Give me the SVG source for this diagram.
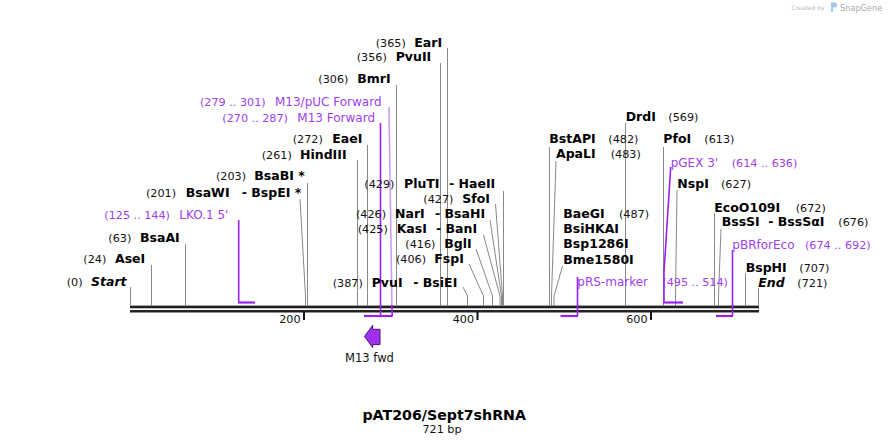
<svg xmlns="http://www.w3.org/2000/svg" width="889" height="445" viewBox="0 0 889 445">
<style>
text{font-family:"DejaVu Sans",Verdana,sans-serif}
.n{font-size:11.2px;fill:#111}
.b{font-size:12.5px;font-weight:bold;fill:#000}
.bi{font-size:12.5px;font-weight:bold;font-style:italic;fill:#000}
.p{font-size:12px;fill:#a040f0}
.pn{font-size:11.2px;fill:#a040f0}
.ln{stroke:#888;stroke-width:1;fill:none}
.pl{stroke:#9b22ee;stroke-width:1.6;fill:none}
.pb{stroke:#9b22ee;stroke-width:2.2;fill:none}
.tk{font-size:11.2px;fill:#111;text-anchor:end}
</style>
<rect width="889" height="445" fill="#fff"/>
<g id="watermark">
<text x="791.5" y="9.5" style="font-size:6px;fill:#bbb">Created by</text>
<path d="M831 2.5h3.5a2.5 2.5 0 0 1 0 5h-1.5v4.5h-2z" fill="#9ccbeb"/>
<text x="840" y="10.5" style="font-size:8.2px;fill:#aaa">SnapGene</text>
</g>
<g id="map">
<rect x="130" y="305.6" width="629" height="2.7" fill="#222"/>
<rect x="130" y="310" width="629" height="2.5" fill="#222"/>
<rect x="303" y="312" width="2" height="8" fill="#111"/>
<rect x="476.5" y="312" width="2" height="8" fill="#111"/>
<rect x="650" y="312" width="2" height="8" fill="#111"/>
<text class="tk" x="300.5" y="323">200</text>
<text class="tk" x="474" y="323">400</text>
<text class="tk" x="647.5" y="323">600</text>
</g>
<g id="connectors">
<polyline class="ln" points="130.5,287 130.5,306"/>
<polyline class="ln" points="151.5,265 151.5,306"/>
<polyline class="ln" points="185.5,244 185.5,306"/>
<polyline class="ln" points="300,199 305.5,296 305.5,306"/>
<polyline class="ln" points="307.5,183 307.5,306"/>
<polyline class="ln" points="357.5,160 357.5,306"/>
<polyline class="ln" points="367.5,145 367.5,306"/>
<polyline class="ln" points="396.5,85 396.5,306"/>
<polyline class="ln" points="440.5,63 440.5,306"/>
<polyline class="ln" points="447.5,48 447.5,306"/>
<polyline class="ln" points="463,287 467.5,296 467.5,306"/>
<polyline class="ln" points="469,264 483.5,296 483.5,306"/>
<polyline class="ln" points="476,249 492.5,296 492.5,306"/>
<polyline class="ln" points="483.5,235 500,296 500,306"/>
<polyline class="ln" points="490,220 501.5,296 501.5,306"/>
<polyline class="ln" points="495.5,204 502.5,296 502.5,306"/>
<polyline class="ln" points="503.5,191 503.5,306"/>
<polyline class="ln" points="549.5,147 549.5,306"/>
<polyline class="ln" points="556,161 551.5,296 551.5,306"/>
<polyline class="ln" points="562.5,266 554,296 554,306"/>
<polyline class="ln" points="625.5,123 625.5,306"/>
<polyline class="ln" points="663.5,147 663.5,306"/>
<polyline class="ln" points="677,190 675.5,296 675.5,306"/>
<polyline class="ln" points="714.5,213 714.5,306"/>
<polyline class="ln" points="721,229 718.5,296 718.5,306"/>
<polyline class="ln" points="745.5,273 745.5,306"/>
<polyline class="ln" points="758.5,288 758.5,306"/>
<polyline class="pl" points="238.7,220 238.7,302.5"/>
<line class="pb" x1="238" y1="302.5" x2="255" y2="302.5"/>
<polyline class="pl" points="380.5,123 380.5,316"/>
<polyline class="pl" points="389,107 391.9,305" style="stroke:#cc9ef6"/>
<polyline class="pl" points="391.9,305 392.2,316"/>
<line class="pb" x1="364" y1="316" x2="392.5" y2="316"/>
<polyline class="pl" points="670.7,167 664,272 664,302.5"/>
<line class="pb" x1="663.5" y1="302.5" x2="683" y2="302.5"/>
<polyline class="pl" points="577.5,277 577.5,316"/>
<line class="pb" x1="560.5" y1="316" x2="578" y2="316"/>
<polyline class="pl" points="732.5,250 732.5,316"/>
<line class="pb" x1="716" y1="316" x2="733" y2="316"/>
</g>
<g id="n-EarI"><text class="n" x="375.7" y="46.5">(365)</text><text class="b" x="414.3" y="46.5">EarI</text></g>
<g id="n-PvuII"><text class="n" x="356.7" y="61">(356)</text><text class="b" x="395.7" y="61">PvuII</text></g>
<g id="n-BmrI"><text class="n" x="318.3" y="83">(306)</text><text class="b" x="357.3" y="83">BmrI</text></g>
<g id="n-M13pUC"><text class="pn" x="200" y="106">(279 .. 301)</text><text class="p" x="275" y="106">M13/pUC Forward</text></g>
<g id="n-M13F"><text class="pn" x="222.3" y="121.5">(270 .. 287)</text><text class="p" x="297.3" y="121.5">M13 Forward</text></g>
<g id="n-EaeI"><text class="n" x="292.7" y="143">(272)</text><text class="b" x="332.3" y="143">EaeI</text></g>
<g id="n-HindIII"><text class="n" x="261.7" y="158.5">(261)</text><text class="b" x="300" y="158.5">HindIII</text></g>
<g id="n-BsaBI"><text class="n" x="216" y="180">(203)</text><text class="b" x="254.3" y="180">BsaBI *</text></g>
<g id="n-BsaWI"><text class="n" x="146" y="196.5">(201)</text><text class="b" x="185.7" y="196.5">BsaWI</text><text class="b" x="241.7" y="196.5">- BspEI *</text></g>
<g id="n-LKO"><text class="pn" x="104.3" y="218.5">(125 .. 144)</text><text class="p" x="179.3" y="218.5">LKO.1 5'</text></g>
<g id="n-BsaAI"><text class="n" x="108.3" y="242">(63)</text><text class="b" x="140" y="242">BsaAI</text></g>
<g id="n-AseI"><text class="n" x="83.3" y="263">(24)</text><text class="b" x="115" y="263">AseI</text></g>
<g id="n-Start"><text class="n" x="66.7" y="286">(0)</text><text class="bi" x="91" y="286">Start</text></g>
<g id="n-PluTI"><text class="n" x="364.3" y="188">(429)</text><text class="b" x="404" y="188">PluTI</text><text class="b" x="449" y="188">- HaeII</text></g>
<g id="n-SfoI"><text class="n" x="423.3" y="203">(427)</text><text class="b" x="462.3" y="203">SfoI</text></g>
<g id="n-NarI"><text class="n" x="356" y="217.5">(426)</text><text class="b" x="395" y="217.5">NarI</text><text class="b" x="435" y="217.5">- BsaHI</text></g>
<g id="n-KasI"><text class="n" x="357.7" y="233">(425)</text><text class="b" x="396.7" y="233">KasI</text><text class="b" x="436" y="233">- BanI</text></g>
<g id="n-BglI"><text class="n" x="405.3" y="248">(416)</text><text class="b" x="444.3" y="248">BglI</text></g>
<g id="n-FspI"><text class="n" x="396" y="263">(406)</text><text class="b" x="434.3" y="263">FspI</text></g>
<g id="n-PvuI"><text class="n" x="332.7" y="286.5">(387)</text><text class="b" x="371.7" y="286.5">PvuI</text><text class="b" x="413.3" y="286.5">- BsiEI</text></g>
<g id="n-DrdI"><text class="b" x="625.7" y="121">DrdI</text><text class="n" x="668.3" y="121">(569)</text></g>
<g id="n-BstAPI"><text class="b" x="549.3" y="143">BstAPI</text><text class="n" x="608.3" y="143">(482)</text></g>
<g id="n-PfoI"><text class="b" x="663.3" y="143">PfoI</text><text class="n" x="704.3" y="143">(613)</text></g>
<g id="n-ApaLI"><text class="b" x="556" y="158">ApaLI</text><text class="n" x="610.7" y="158">(483)</text></g>
<g id="n-pGEX"><text class="p" x="670.7" y="166.5">pGEX 3'</text><text class="pn" x="731.7" y="166.5">(614 .. 636)</text></g>
<g id="n-NspI"><text class="b" x="677.3" y="187.5">NspI</text><text class="n" x="721" y="187.5">(627)</text></g>
<g id="n-EcoO109I"><text class="b" x="714.3" y="211.5">EcoO109I</text><text class="n" x="795.7" y="211.5">(672)</text></g>
<g id="n-BaeGI"><text class="b" x="563.3" y="217.5">BaeGI</text><text class="n" x="619" y="217.5">(487)</text><text class="b" x="563.3" y="232.5">BsiHKAI</text><text class="b" x="563.3" y="247.5">Bsp1286I</text><text class="b" x="563.3" y="263.5">Bme1580I</text></g>
<g id="n-BssSI"><text class="b" x="721.7" y="226">BssSI</text><text class="b" x="768.3" y="226">- BssSαI</text><text class="n" x="838.3" y="226">(676)</text></g>
<g id="n-pBR"><text class="p" x="732.3" y="248.5">pBRforEco</text><text class="pn" x="805" y="248.5">(674 .. 692)</text></g>
<g id="n-BspHI"><text class="b" x="745.7" y="271.5">BspHI</text><text class="n" x="799.3" y="271.5">(707)</text></g>
<g id="n-pRS"><text class="p" x="577.3" y="286">pRS-marker</text><text class="pn" x="662.3" y="286">(495 .. 514)</text></g>
<g id="n-End"><text class="bi" x="758.3" y="286.5">End</text><text class="n" x="797.3" y="286.5">(721)</text></g>
<g id="n-M13fwd">
<polygon points="372.7,325.3 364.5,336.5 372.7,347.5 372.7,344.6 380,344.6 380,329.3 372.7,329.3" fill="#a030ee" stroke="#4a1470" stroke-width="1"/>
<text x="369.5" y="362" text-anchor="middle" style="font-size:11.5px;fill:#111">M13 fwd</text>
</g>
<g id="title">
<text x="444.2" y="420" text-anchor="middle" style="font-size:14.2px;font-weight:bold;fill:#000">pAT206/Sept7shRNA</text>
<text x="442" y="432.5" text-anchor="middle" style="font-size:11.2px;fill:#111">721 bp</text>
</g>
</svg>
